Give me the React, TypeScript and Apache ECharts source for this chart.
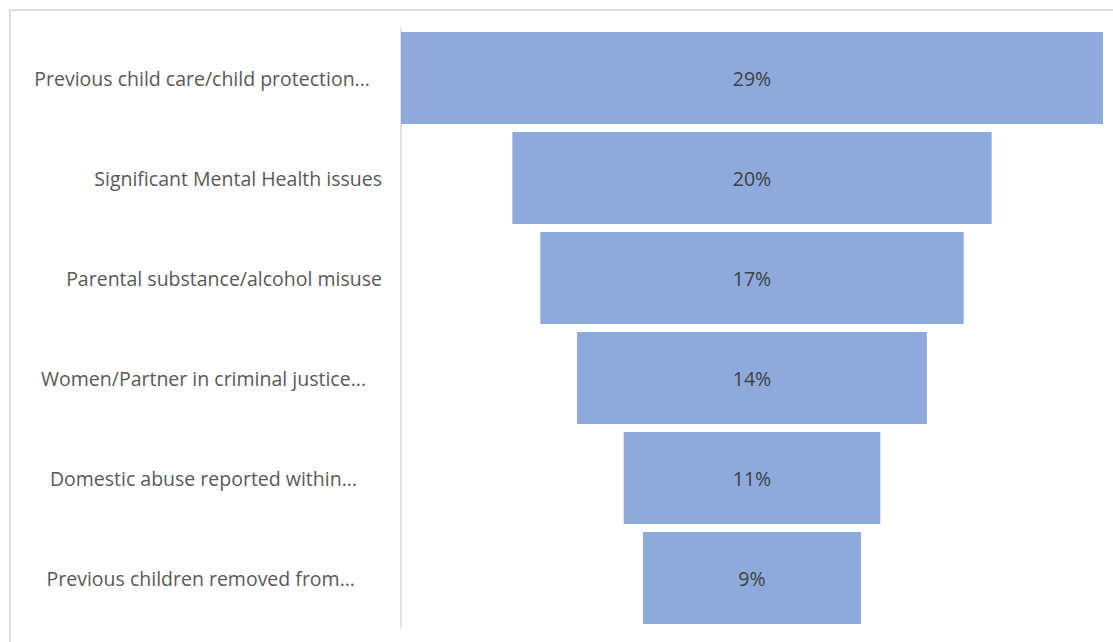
import React, { useEffect, useRef } from "react";
import * as echarts from "echarts";

const categories = [
  "Previous child care/child protection...",
  "Significant Mental Health issues",
  "Parental substance/alcohol misuse",
  "Women/Partner in criminal justice...",
  "Domestic abuse reported within...",
  "Previous children removed from...",
];
const values = [29.0, 19.8, 17.49, 14.45, 10.6, 9.0];
const labelPadRight = [12, 0, 0, 16, 25, 27];

export default function App() {
  const ref = useRef<HTMLDivElement>(null);
  useEffect(() => {
    document.body.style.margin = "0";
    const chart = echarts.init(ref.current!, null, { renderer: "svg" });
    const maxV = Math.max(...values);
    const offsets = values.map((v) => (maxV - v) / 2);
    chart.setOption({
      animation: false,
      backgroundColor: "#ffffff",
      textStyle: { fontFamily: "Open Sans" },
      graphic: [
        {
          type: "rect",
          shape: { x: 10, y: 10, width: 1300, height: 800 },
          style: { fill: "none", stroke: "#dcdcdc", lineWidth: 2 },
          silent: true,
        },
      ],
      grid: { left: 401, right: 10, top: 28, bottom: 14, containLabel: false },
      xAxis: {
        type: "value",
        min: 0,
        max: maxV,
        show: false,
      },
      yAxis: {
        type: "category",
        inverse: true,
        data: categories.map((c, i) => ({
          value: c,
          textStyle: { padding: [0, labelPadRight[i], 0, 0] },
        })),
        axisLine: { show: true, lineStyle: { color: "#d9d9d9", width: 1.5 } },
        axisTick: { show: false },
        axisLabel: {
          color: "#595959",
          fontSize: 19.5,
          fontFamily: "Open Sans",
          margin: 19,
        },
      },
      series: [
        {
          type: "bar",
          stack: "f",
          data: offsets,
          itemStyle: { color: "transparent" },
          barCategoryGap: "8%",
          silent: true,
        },
        {
          type: "bar",
          stack: "f",
          data: values,
          barCategoryGap: "8%",
          itemStyle: { color: "#8eaadc" },
          label: {
            show: true,
            position: "inside",
            color: "#404040",
            fontSize: 19.5,
            fontFamily: "Open Sans",
            formatter: (p: any) => Math.round(p.value) + "%",
          },
        },
      ],
    });
    return () => chart.dispose();
  }, []);
  return (
    <div
      ref={ref}
      style={{ position: "absolute", left: 0, top: 0, width: 1113, height: 642 }}
    />
  );
}
